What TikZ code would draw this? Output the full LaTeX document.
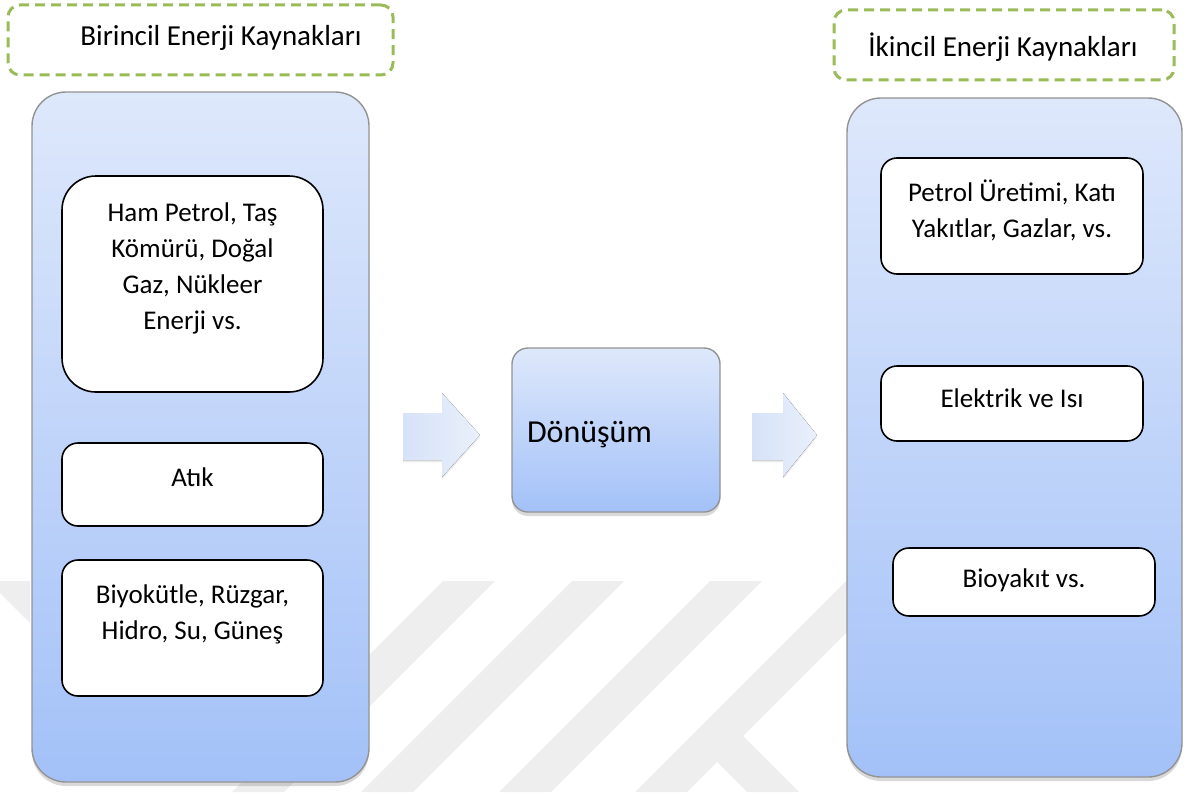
\documentclass[tikz,border=0pt]{standalone}
\usepackage{fontspec}
\setmainfont{Carlito}
\usetikzlibrary{shadows}
\definecolor{wmgray}{HTML}{EEEEEE}
\definecolor{dashgreen}{HTML}{9BBB59}
\definecolor{paneltop}{HTML}{DEE8FB}
\definecolor{panelbot}{HTML}{A3C1F8}
\definecolor{arrowleft}{HTML}{D6E2F8}
\definecolor{arrowright}{HTML}{EAF0FB}
\begin{document}
\begin{tikzpicture}[x=0.5pt,y=-0.5pt,inner sep=0pt,outer sep=0pt,
panel/.style={draw=gray!85,line width=0.7pt,rounded corners=17pt,top color=paneltop,bottom color=panelbot,
  drop shadow={shadow xshift=0pt,shadow yshift=-2pt,opacity=0.3}},
srcbox/.style={draw=black,fill=white,line width=0.8pt,rounded corners=8pt},
titlebox/.style={draw=dashgreen,line width=1.5pt,dash pattern=on 5pt off 3pt,rounded corners=6pt},
titletext/.style={font=\fontsize{14.5}{18}\selectfont},
txt/.style={align=center,font=\fontsize{13.5}{18}\selectfont},
blockarrow/.style={left color=arrowleft,right color=arrowright,
  drop shadow={shadow xshift=0pt,shadow yshift=-1.2pt,opacity=0.15}}]

\useasboundingbox (0,0) rectangle (1203,792);

% watermark
\fill[wmgray] (0,581) -- (30,581) -- (30,623) -- (0,593) -- cycle;
\foreach \bx in {443,572,710,846}
  \fill[wmgray] (\bx,581) -- ++(52,0) -- ++(-211,211) -- ++(-52,0) -- cycle;
\fill[wmgray] (741,734) -- (799,792) -- (747,792) -- (715,760) -- cycle;

% titles
\draw (200.5,40) node[titlebox,minimum width=192.5pt,minimum height=35pt] (primtitle) {};
\draw (221,38) node[titletext] (primlbl) {Birincil Enerji Kaynakları};
\draw (1004,45) node[titlebox,minimum width=170pt,minimum height=35pt] (sectitle) {};
\draw (1003,47) node[titletext] (seclbl) {İkincil Enerji Kaynakları};

% primary sources
\draw (200.5,437) node[panel,minimum width=168.5pt,minimum height=345pt] (prim) {};
\draw (192.5,284) node[srcbox,rounded corners=17pt,minimum width=130.5pt,minimum height=108pt] (fossil) {};
\draw (192.5,268) node[txt] (fossillbl) {Ham Petrol, Taş\\Kömürü, Doğal\\Gaz, Nükleer\\Enerji vs.};
\draw (192.5,484.5) node[srcbox,minimum width=130.5pt,minimum height=41.5pt] (waste) {};
\draw (192.5,477) node[txt] (wastelbl) {Atık};
\draw (192.5,628) node[srcbox,minimum width=130.5pt,minimum height=68pt] (renew) {};
\draw (192.5,614) node[txt] (renewlbl) {Biyokütle, Rüzgar,\\Hidro, Su, Güneş};

% conversion
\fill[blockarrow] (403,413) -- (442,413) -- (442,393) -- (480,435) -- (442,477) -- (442,460) -- (403,460) -- cycle;
\draw (616,430) node[panel,rounded corners=8pt,minimum width=104pt,minimum height=82pt] (conv) {};
\draw (527,435) node[anchor=west,font=\fontsize{16}{18}\selectfont] (convlbl) {Dönüşüm};
\fill[blockarrow] (752,413) -- (783,413) -- (783,393) -- (817,435) -- (783,477) -- (783,460) -- (752,460) -- cycle;

% secondary sources
\draw (1014.5,437.5) node[panel,minimum width=167.5pt,minimum height=339.5pt] (sec) {};
\draw (1012,216) node[srcbox,minimum width=131pt,minimum height=58pt] (fuels) {};
\draw (1012,210) node[txt] (fuelslbl) {Petrol Üretimi, Katı\\Yakıtlar, Gazlar, vs.};
\draw (1012,403.5) node[srcbox,minimum width=131pt,minimum height=37.5pt] (power) {};
\draw (1012,398) node[txt] (powerlbl) {Elektrik ve Isı};
\draw (1024,582) node[srcbox,minimum width=131pt,minimum height=34pt] (bio) {};
\draw (1024,580) node[txt] (biolbl) {Bioyakıt vs.};
\end{tikzpicture}
\end{document}
